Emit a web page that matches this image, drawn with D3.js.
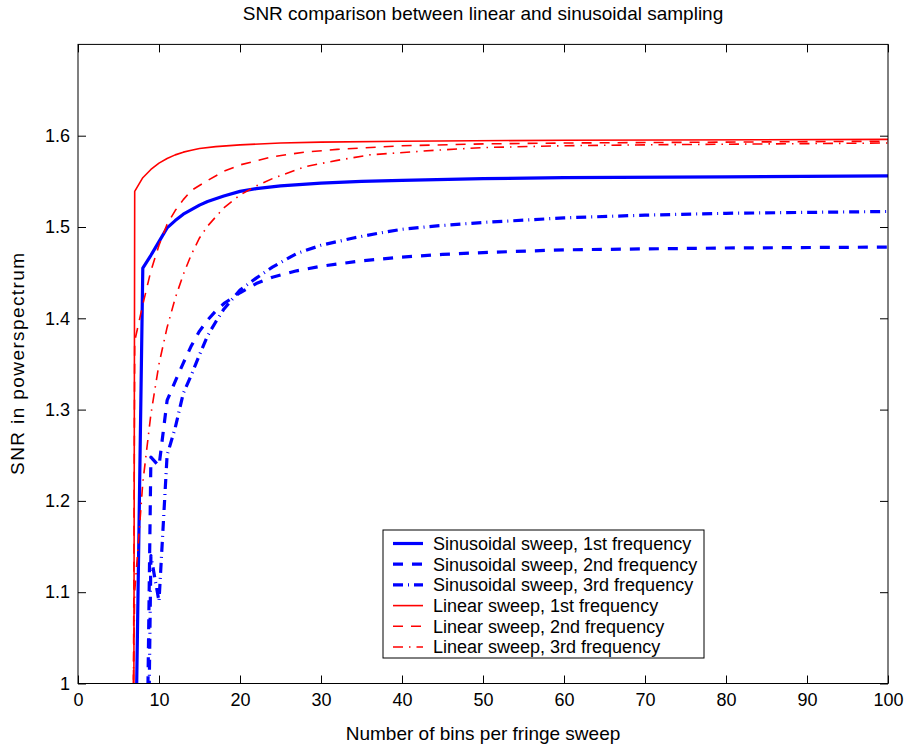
<!DOCTYPE html>
<html>
<head>
<meta charset="utf-8">
<script src="https://cdn.jsdelivr.net/npm/d3@7"></script>
<style>
  body { margin: 0; background: #fff; }
  text { font-family: "Liberation Sans", Arial, Helvetica, sans-serif; fill: #000; }
</style>
</head>
<body>
<div id="chart"></div>
<script>
// values (bins per sweep -> SNR)
const sin1X = [7, 8, 9, 10, 11, 12, 13, 14, 15, 16, 18, 20, 22, 25, 30, 35, 40, 50, 60, 80, 100];
const sin1Y = [0.85, 1.455, 1.469, 1.484, 1.499, 1.507, 1.514, 1.519, 1.524, 1.528, 1.534, 1.539, 1.542, 1.545, 1.548, 1.550, 1.551, 1.553, 1.554, 1.555, 1.556];

const sin2X = [8, 9, 10, 11, 12, 13, 14, 15, 16, 17, 18, 19, 20, 22, 24, 27, 30, 35, 40, 45, 50, 60, 70, 80, 100];
const sin2Y = [0.56, 1.248, 1.238, 1.31, 1.331, 1.351, 1.370, 1.386, 1.398, 1.408, 1.416, 1.422, 1.428, 1.438, 1.445, 1.452, 1.457, 1.463, 1.467, 1.470, 1.472, 1.475, 1.476, 1.477, 1.478];

const sin3X = [8, 9, 10, 11, 12, 13, 14, 15, 16, 17, 18, 20, 22, 24, 27, 30, 34, 37, 40, 44, 50, 60, 70, 80, 90, 100];
const sin3Y = [0.44, 1.14, 1.09, 1.25, 1.28, 1.318, 1.338, 1.36, 1.381, 1.396, 1.41, 1.431, 1.444, 1.456, 1.471, 1.48, 1.488, 1.493, 1.4975, 1.501, 1.505, 1.510, 1.513, 1.515, 1.516, 1.517];

const lin1X = [6, 7, 8, 9, 10, 11, 12, 13, 14, 15, 17, 20, 25, 30, 40, 60, 100];
const lin1Y = [-3.8, 1.539, 1.554, 1.563, 1.570, 1.575, 1.579, 1.582, 1.584, 1.586, 1.588, 1.590, 1.592, 1.593, 1.594, 1.595, 1.596];

const lin2X = [6, 7, 8, 9, 10, 11, 12, 13, 14, 16, 18, 20, 24, 28, 32, 40, 50, 60, 80, 100];
const lin2Y = [-1.125, 1.375, 1.415, 1.452, 1.480, 1.503, 1.518, 1.530, 1.540, 1.551, 1.561, 1.568, 1.577, 1.582, 1.585, 1.589, 1.591, 1.592, 1.593, 1.594];

const lin3X = [6, 7, 8, 9, 10, 11, 12, 13, 14, 15, 16, 18, 20, 22, 24, 28, 32, 36, 44, 50, 60, 70, 85, 100];
const lin3Y = [0.51, 1.10, 1.22, 1.295, 1.35, 1.39, 1.422, 1.448, 1.47, 1.488, 1.501, 1.521, 1.535, 1.545, 1.553, 1.566, 1.573, 1.579, 1.584, 1.587, 1.589, 1.590, 1.591, 1.592];

const seriesNames = [
  'Sinusoidal sweep, 1st frequency',
  'Sinusoidal sweep, 2nd frequency',
  'Sinusoidal sweep, 3rd frequency',
  'Linear sweep, 1st frequency',
  'Linear sweep, 2nd frequency',
  'Linear sweep, 3rd frequency'
];
const xTicks = [0, 10, 20, 30, 40, 50, 60, 70, 80, 90, 100];
const yTicks = [1, 1.1, 1.2, 1.3, 1.4, 1.5, 1.6];

const W = 906, H = 747;
const m = { left: 78, top: 44.4, right: 18, bottom: 63.5 };
const iw = W - m.left - m.right;
const ih = H - m.top - m.bottom;

const styles = [
  { color: '#0000ff', width: 3.2, dash: null },
  { color: '#0000ff', width: 3.2, dash: '10,9' },
  { color: '#0000ff', width: 3.2, dash: '10,5,1,5' },
  { color: '#ff0000', width: 1.6, dash: null },
  { color: '#ff0000', width: 1.6, dash: '10,8' },
  { color: '#ff0000', width: 1.6, dash: '10,6,1.5,6' }
];

const series = [
  [sin1X, sin1Y], [sin2X, sin2Y], [sin3X, sin3Y],
  [lin1X, lin1Y], [lin2X, lin2Y], [lin3X, lin3Y]
].map(([xs, ys], i) => ({
  name: seriesNames[i],
  style: styles[i],
  pts: xs.map((x, j) => [x, ys[j]])
}));

const svg = d3.select('#chart').append('svg')
  .attr('width', W)
  .attr('height', H);

const x = d3.scaleLinear().domain([0, 100]).range([0, iw]);
const y = d3.scaleLinear().domain([1, 1.7]).range([ih, 0]);

const g = svg.append('g').attr('transform', `translate(${m.left},${m.top})`);

svg.append('defs').append('clipPath').attr('id', 'plotclip')
  .append('rect').attr('width', iw).attr('height', ih);

const fmt = d3.format('~g');

const gx = g.append('g').attr('transform', `translate(0,${ih})`)
  .call(d3.axisBottom(x).tickValues(xTicks).tickSizeInner(-8).tickSizeOuter(0).tickPadding(10));
const gy = g.append('g')
  .call(d3.axisLeft(y).tickValues(yTicks).tickFormat(fmt).tickSizeInner(-8).tickSizeOuter(0).tickPadding(8));
const gt = g.append('g')
  .call(d3.axisTop(x).tickValues(xTicks).tickSizeInner(-8).tickSizeOuter(0).tickFormat(''));
const gr = g.append('g').attr('transform', `translate(${iw},0)`)
  .call(d3.axisRight(y).tickValues(yTicks).tickSizeInner(-8).tickSizeOuter(0).tickFormat(''));

[gx, gy, gt, gr].forEach((a) => {
  a.select('.domain').remove();
  a.selectAll('line').attr('stroke', '#000');
  a.selectAll('text').attr('font-size', 18).attr('fill', '#000');
});

const line = d3.line()
  .x((d) => x(d[0]))
  .y((d) => y(d[1]));

const plot = g.append('g').attr('clip-path', 'url(#plotclip)');
series.forEach((s) => {
  plot.append('path')
    .attr('d', line(s.pts))
    .attr('fill', 'none')
    .attr('stroke', s.style.color)
    .attr('stroke-width', s.style.width)
    .attr('stroke-dasharray', s.style.dash)
    .attr('stroke-linejoin', 'round');
});

g.append('rect')
  .attr('width', iw)
  .attr('height', ih)
  .attr('fill', 'none')
  .attr('stroke', '#000')
  .attr('stroke-width', 1);

// legend
const lg = svg.append('g').attr('transform', 'translate(383,530)');
lg.append('rect')
  .attr('width', 321)
  .attr('height', 128)
  .attr('fill', '#fff')
  .attr('stroke', '#000')
  .attr('stroke-width', 1);

series.forEach((s, i) => {
  const cy = 13.5 + i * 20.7;
  lg.append('line')
    .attr('x1', 10).attr('x2', 40)
    .attr('y1', cy).attr('y2', cy)
    .attr('stroke', s.style.color)
    .attr('stroke-width', s.style.width)
    .attr('stroke-dasharray', s.style.dash);
  lg.append('text')
    .attr('x', 50)
    .attr('y', cy)
    .attr('dy', '0.35em')
    .attr('font-size', 18)
    .text(s.name);
});

svg.append('text')
  .attr('x', m.left + iw / 2)
  .attr('y', 20)
  .attr('text-anchor', 'middle')
  .attr('font-size', 19)
  .text('SNR comparison between linear and sinusoidal sampling');

svg.append('text')
  .attr('x', m.left + iw / 2)
  .attr('y', 740)
  .attr('text-anchor', 'middle')
  .attr('font-size', 19)
  .text('Number of bins per fringe sweep');

svg.append('text')
  .attr('transform', `translate(24,${m.top + ih / 2}) rotate(-90)`)
  .attr('text-anchor', 'middle')
  .attr('font-size', 19)
  .attr('textLength', 222)
  .attr('lengthAdjust', 'spacing')
  .text('SNR in powerspectrum');
</script>
</body>
</html>
